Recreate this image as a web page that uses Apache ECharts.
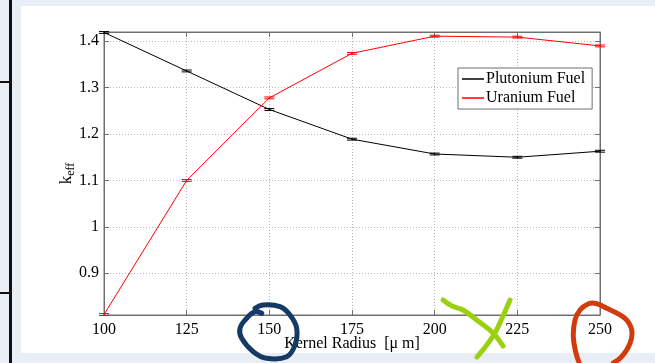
<!DOCTYPE html>
<html>
<head>
<meta charset="utf-8">
<script src="https://cdn.jsdelivr.net/npm/echarts@6/dist/echarts.min.js"></script>
<style>
  html, body { margin:0; padding:0; width:655px; height:363px; background:#e9edf5; overflow:hidden; }
  #panel { position:absolute; left:21px; top:6px; width:634px; height:347px; background:#fff; }
  #vline { position:absolute; left:9px; top:0; width:3px; height:363px; background:#111; }
  .hline { position:absolute; left:0; width:10px; height:2px; background:#111; }
  #chart { position:absolute; left:0; top:0; width:655px; height:363px; }
</style>
</head>
<body>
<div id="panel"></div>
<div id="vline"></div>
<div class="hline" style="top:81px"></div>
<div class="hline" style="top:292px"></div>
<div id="chart"></div>
<script>
// ---- data ----
const radii = [100, 125, 150, 175, 200, 225, 250];
const plutonium = [1.419, 1.336, 1.253, 1.189, 1.157, 1.150, 1.163];
const plutoniumErr = [0.002, 0.002, 0.002, 0.002, 0.002, 0.002, 0.002];
const uranium = [0.811, 1.100, 1.278, 1.374, 1.411, 1.409, 1.390];
const uraniumErr = [0.002, 0.002, 0.002, 0.002, 0.002, 0.002, 0.002];
const seriesNames = ['Plutonium Fuel', 'Uranium Fuel'];
const xTitle = 'Kernel Radius  [\u03bc m]';

const FONT = 'Liberation Serif';
const AX = '#6e6e6e';

function errSeries(vals, errs, color) {
  return {
    type: 'custom',
    silent: true,
    z: 3,
    data: radii.map((r, i) => [r, vals[i], errs[i]]),
    renderItem: function (params, api) {
      const x = api.value(0), y = api.value(1), e = api.value(2);
      const p = api.coord([x, y]);
      const hi = api.coord([x, y + e]);
      const lo = api.coord([x, y - e]);
      const w = 5;
      const st = { stroke: color, lineWidth: 1 };
      return { type: 'group', children: [
        { type: 'line', shape: { x1: p[0], y1: hi[1], x2: p[0], y2: lo[1] }, style: st },
        { type: 'line', shape: { x1: p[0] - w, y1: hi[1], x2: p[0] + w, y2: hi[1] }, style: st },
        { type: 'line', shape: { x1: p[0] - w, y1: lo[1], x2: p[0] + w, y2: lo[1] }, style: st }
      ]};
    }
  };
}

const chart = echarts.init(document.getElementById('chart'), null, { renderer: 'canvas' });
const baseX = { type: 'value', min: 100, max: 250, interval: 25 };
const baseY = { type: 'value', min: 0.81, max: 1.42, splitNumber: 6 };
chart.setOption({
  animation: false,
  backgroundColor: 'transparent',
  textStyle: { fontFamily: FONT },
  grid: { left: 104, right: 55, top: 32, bottom: 48, show: true, borderColor: AX, borderWidth: 1, backgroundColor: 'transparent' },
  legend: {
    data: [{ name: seriesNames[0], icon: 'rect' }, { name: seriesNames[1], icon: 'rect' }],
    orient: 'vertical', left: 458, top: 68,
    backgroundColor: '#fff', borderColor: AX, borderWidth: 1,
    padding: [3, 7, 3, 4], itemGap: 3, itemWidth: 22, itemHeight: 1.5,
    textStyle: { fontFamily: FONT, fontSize: 16, color: '#000', padding: [0, 0, 0, -3] }
  },
  xAxis: [
    Object.assign({}, baseX, {
      position: 'bottom',
      name: xTitle, nameLocation: 'middle', nameGap: 21, nameMoveOverlap: false,
      nameTextStyle: { fontFamily: FONT, fontSize: 16, color: '#000', verticalAlign: 'top' },
      axisLine: { lineStyle: { color: AX } },
      axisTick: { inside: true, length: 5, lineStyle: { color: AX } },
      axisLabel: { fontFamily: FONT, fontSize: 16, color: '#000', margin: 7 },
      splitLine: { show: true, lineStyle: { color: '#b8b8b8', type: [1, 2], width: 1 } }
    }),
    Object.assign({}, baseX, {
      position: 'top',
      axisLine: { lineStyle: { color: AX } },
      axisTick: { inside: true, length: 5, lineStyle: { color: AX } },
      axisLabel: { show: false }, splitLine: { show: false }
    })
  ],
  yAxis: [
    Object.assign({}, baseY, {
      position: 'left',
      name: '{k|k}{s|eff}', nameLocation: 'middle', nameGap: 27, nameRotate: 90, nameMoveOverlap: false,
      nameTextStyle: { fontFamily: FONT, color: '#000', rich: {
        k: { fontFamily: FONT, fontSize: 17, color: '#000' },
        s: { fontFamily: FONT, fontSize: 12, color: '#000', padding: [9, 0, 0, 0] }
      } },
      axisLine: { lineStyle: { color: AX } },
      axisTick: { inside: true, length: 5, lineStyle: { color: AX } },
      axisLabel: { fontFamily: FONT, fontSize: 16, color: '#000', margin: 5, showMinLabel: false, showMaxLabel: false,
        formatter: v => (Math.abs(v - 1) < 1e-9 ? '1' : v.toFixed(1)) },
      splitLine: { show: true, lineStyle: { color: '#b8b8b8', type: [1, 2], width: 1 } }
    }),
    Object.assign({}, baseY, {
      position: 'right',
      axisLine: { lineStyle: { color: AX } },
      axisTick: { inside: true, length: 5, lineStyle: { color: AX } },
      axisLabel: { show: false }, splitLine: { show: false }
    })
  ],
  series: [
    { name: seriesNames[0], type: 'line', data: radii.map((r, i) => [r, plutonium[i]]),
      showSymbol: false, lineStyle: { color: '#000', width: 1 }, itemStyle: { color: '#000' }, z: 4 },
    { name: seriesNames[1], type: 'line', data: radii.map((r, i) => [r, uranium[i]]),
      showSymbol: false, lineStyle: { color: '#ff0000', width: 1 }, itemStyle: { color: '#ff0000' }, z: 4 },
    errSeries(plutonium, plutoniumErr, '#000'),
    errSeries(uranium, uraniumErr, '#ff0000')
  ],
  graphic: [
    { type: 'polyline', z: 100, shape: { smooth: 0.4, points: [
      [261.7,313.3],[255,311.7],[246.7,318.3],[240,328.3],[241.7,338.3],[253.3,351.7],[266.7,358.3],[286.7,356.7],[295,345],[296.7,328.3],[290,315],[280,306.7],[263.3,305],[255,308.3]
    ] }, style: { stroke: '#163a66', lineWidth: 5, lineCap: 'round', lineJoin: 'round', fill: null } },
    { type: 'polyline', z: 100, shape: { smooth: 0.4, points: [
      [443,300],[452,306],[463,310],[478,321],[493,333],[503,346]
    ] }, style: { stroke: '#9ccf0e', lineWidth: 5, lineCap: 'round', fill: null } },
    { type: 'polyline', z: 100, shape: { smooth: 0.3, points: [
      [510,300],[503,316],[495,333],[486,346],[477,357]
    ] }, style: { stroke: '#9ccf0e', lineWidth: 5, lineCap: 'round', fill: null } },
    { type: 'polyline', z: 100, shape: { smooth: 0.4, points: [
      [579.3,363],[576,353.3],[573.3,336.7],[575,320],[580,310],[588,304],[596,303.5],[606.7,308.3],[625,318.3],[631.7,330],[630,343.3],[621.7,356.7],[613.3,363]
    ] }, style: { stroke: '#d23c0c', lineWidth: 5, lineCap: 'round', lineJoin: 'round', fill: null } }
  ]
});
</script>
</body>
</html>
